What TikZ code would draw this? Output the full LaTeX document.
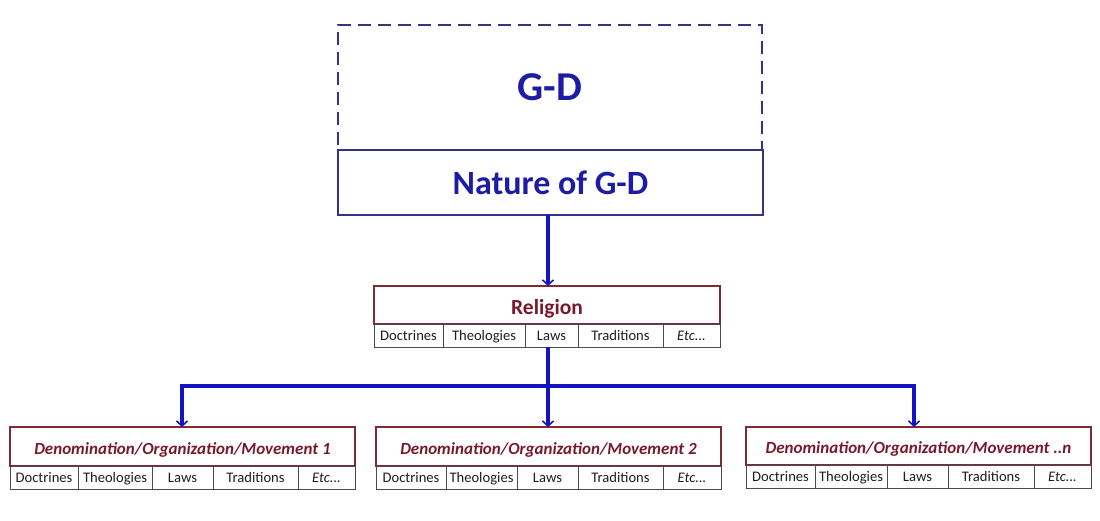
\documentclass[tikz,border=0pt]{standalone}
\usepackage{fontspec}
\setmainfont{Carlito}
\usepackage{tikz}
\usetikzlibrary{arrows.meta,positioning,calc}
\definecolor{gdblue}{RGB}{28,28,165}
\definecolor{gdframe}{RGB}{52,52,135}
\definecolor{flowblue}{RGB}{20,20,195}
\definecolor{religred}{RGB}{120,26,44}
\definecolor{religframe}{RGB}{128,42,52}
\definecolor{cellframe}{RGB}{75,75,75}
\definecolor{celltext}{RGB}{30,30,30}

\tikzset{
  gdbox/.style={draw=gdframe, line width=1.8pt, inner sep=0pt, outer sep=0pt},
  titlebox/.style={draw=religframe, line width=1.6pt, inner sep=0pt, outer sep=0pt,
    minimum height=38pt, text height=15pt, text depth=0pt, text=religred,
    font=\bfseries\fontsize{17}{20}\selectfont\itshape},
  cellbox/.style={draw=cellframe, line width=0.9pt, inner sep=0pt, outer sep=0pt,
    minimum height=23pt, text height=10.5pt, text depth=1.5pt, text=celltext,
    font=\fontsize{14.6}{17}\selectfont},
  flowline/.style={draw=flowblue, line width=3.6pt},
  flow/.style={flowline, -{Straight Barb[length=5pt,width=11pt,line width=1.6pt]}}
}

\begin{document}
\begin{tikzpicture}[x=1pt, y=-1pt]
\useasboundingbox (0,0) rectangle (1100,520);

% G-D and its nature
\node[gdbox, dashed, dash pattern=on 13pt off 7pt, minimum width=424pt, minimum height=125pt] (gd) at (550,87.5) {};
\node[text=gdblue, font=\bfseries\fontsize{41}{48}\selectfont] (gdlabel) at (gd.center) {G-D};
\node[gdbox, fill=white, minimum width=425pt, minimum height=65pt, text=gdblue,
  font=\bfseries\fontsize{34}{40}\selectfont] (nature) at (550.5,182.5) {Nature of G-D};

% religion
\node[titlebox, font=\bfseries\fontsize{21.5}{24}\selectfont, text height=18pt,
  minimum width=346pt] (religion) at (547,305) {Religion};
\foreach \lbl/\xa/\xb [count=\i] in {Doctrines/374/443, Theologies/443/525, Laws/525/578,
    Traditions/578/663, {\textit{Etc...}}/663/720}
  \node[cellbox, minimum width={(\xb-\xa)*1pt}] (rel-\i) at ({(\xa+\xb)/2},335.5) {\lbl};

% denominations
\node[titlebox, minimum width=345pt, minimum height=39pt] (denom1) at (182.5,446.5) {Denomination/Organization/Movement 1};
\foreach \lbl/\xa/\xb [count=\i] in {Doctrines/10/78, Theologies/78/152, Laws/152/213,
    Traditions/213/298, {\textit{Etc...}}/298/355}
  \node[cellbox, minimum width={(\xb-\xa)*1pt}] (den1-\i) at ({(\xa+\xb)/2},477.5) {\lbl};

\node[titlebox, minimum width=345pt, minimum height=39pt] (denom2) at (548.5,446.5) {Denomination/Organization/Movement 2};
\foreach \lbl/\xa/\xb [count=\i] in {Doctrines/376/446, Theologies/446/517, Laws/517/578,
    Traditions/578/663, {\textit{Etc...}}/663/721}
  \node[cellbox, minimum width={(\xb-\xa)*1pt}] (den2-\i) at ({(\xa+\xb)/2},477.5) {\lbl};

\node[titlebox, minimum width=345pt] (denom3) at (918.5,446) {Denomination/Organization/Movement ..n};
\foreach \lbl/\xa/\xb [count=\i] in {Doctrines/746/815, Theologies/815/887, Laws/887/948,
    Traditions/948/1034, {\textit{Etc...}}/1034/1091}
  \node[cellbox, minimum width={(\xb-\xa)*1pt}] (den3-\i) at ({(\xa+\xb)/2},476.5) {\lbl};

% connectors
\coordinate (split) at (548,386);
\coordinate (barL) at (182,386);
\coordinate (barR) at (914,386);
\draw[flow] (nature.south -| split) -- (religion.north -| split);
\draw[flowline] (rel-3.south -| split) -- (split);
\draw[flowline, line cap=rect] (barL) -- (barR);
\draw[flow] (barL) -- (barL |- denom1.north);
\draw[flow] (split) -- (split |- denom2.north);
\draw[flow] (barR) -- (barR |- denom3.north);
\end{tikzpicture}
\end{document}
